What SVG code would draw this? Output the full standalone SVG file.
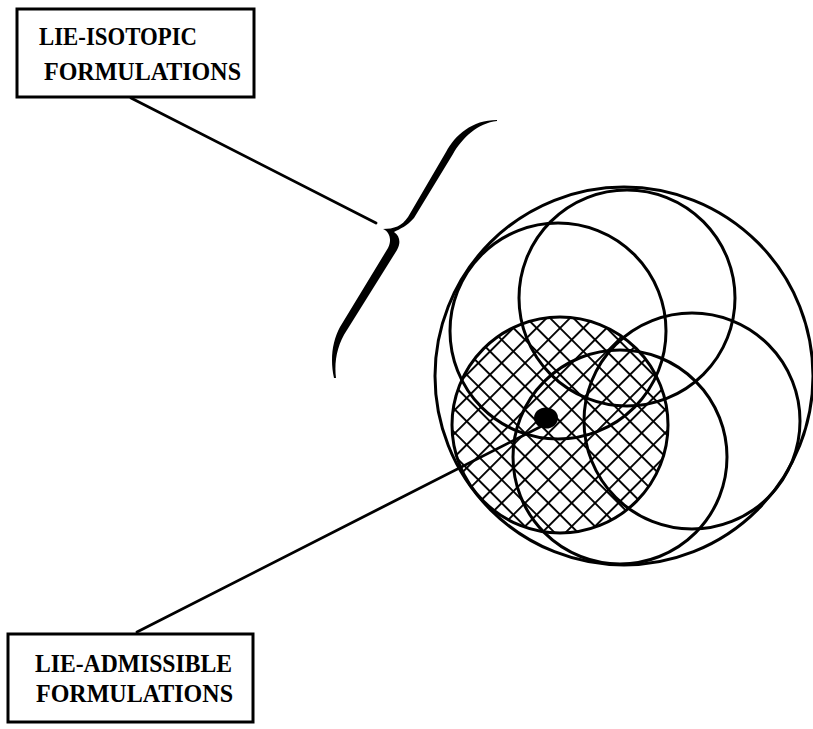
<svg xmlns="http://www.w3.org/2000/svg" width="813" height="729" viewBox="0 0 813 729">
<style>
.box{fill:#fff;stroke:#000;stroke-width:3}
.lbl{font-family:"Liberation Serif","Times New Roman",serif;font-weight:bold;font-size:26px;fill:#000}
.conn{stroke:#000;stroke-width:2.8;fill:none;stroke-linecap:round}
.c{fill:none;stroke:#000;stroke-width:3}
</style>
<defs>
<pattern id="hatch" patternUnits="userSpaceOnUse" width="16.5" height="16.5" patternTransform="rotate(45)">
<line x1="0" y1="0" x2="0" y2="16.5" stroke="#000" stroke-width="3.8"/>
<line x1="0" y1="0" x2="16.5" y2="0" stroke="#000" stroke-width="3.8"/>
</pattern>
<clipPath id="hclip"><circle cx="560" cy="425" r="108"/></clipPath>
</defs>
<rect width="813" height="729" fill="#fff"/>
<g id="connectors">
<line class="conn" x1="131" y1="98" x2="376" y2="223"/>
<line class="conn" x1="137" y1="632" x2="540" y2="427"/>
</g>
<g id="brace">
<path fill="#000" d="M497,120 C472,120 455,135 446,152 L408,217 C402,226 394,229 383,229 C390,232 392,240 388,248 L340,327 C332,342 330,360 334,378 C336,378 336,378 336,378 C334,362 337,345 347,330 L397,250 C401,243 400,236 394,232 C400,229 407,226 414,218 L453,154 C462,138 478,123 497,121 Z"/>
</g>
<g id="lie-isotopic">
<rect class="box" x="17" y="9" width="237" height="88"/>
<text class="lbl" x="39" y="45" textLength="158" lengthAdjust="spacingAndGlyphs">LIE-ISOTOPIC</text>
<text class="lbl" x="44" y="80" textLength="197" lengthAdjust="spacingAndGlyphs">FORMULATIONS</text>
</g>
<g id="lie-admissible">
<rect class="box" x="8" y="634" width="245" height="88"/>
<text class="lbl" x="35" y="672" textLength="197" lengthAdjust="spacingAndGlyphs">LIE-ADMISSIBLE</text>
<text class="lbl" x="36" y="702" textLength="197" lengthAdjust="spacingAndGlyphs">FORMULATIONS</text>
</g>
<g id="circles">
<rect x="440" y="300" width="240" height="250" fill="url(#hatch)" clip-path="url(#hclip)"/>
<circle cx="560" cy="425" r="108" class="c" stroke-width="4"/>
<circle cx="627" cy="298" r="108" class="c"/>
<circle cx="558" cy="331" r="108" class="c"/>
<circle cx="692" cy="421" r="108" class="c"/>
<circle cx="620" cy="457" r="107" class="c"/>
<circle cx="624" cy="376" r="189" class="c" stroke-width="5"/>
<ellipse cx="546" cy="418" rx="12" ry="10.5" fill="#000"/>
</g>
</svg>
